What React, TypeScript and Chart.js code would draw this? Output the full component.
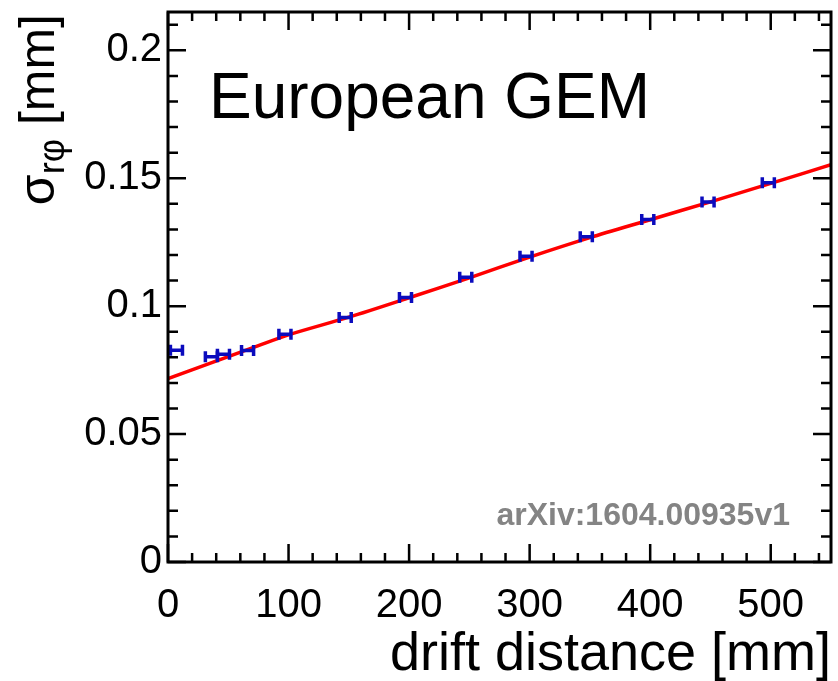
import React, { useEffect, useRef } from 'react';
import { Chart, registerables } from 'chart.js';

Chart.register(...registerables);

// ---- data ----
const pointX = [7, 36, 46, 66, 97, 147, 197, 247, 297, 347, 398, 448, 498];
const pointY = [0.0828, 0.0802, 0.0812, 0.0827, 0.089, 0.0956, 0.1034, 0.1113, 0.1195, 0.1271, 0.1339, 0.1407, 0.1483];
const pointXErr = [5, 5, 5, 5, 5, 5, 5, 5, 5, 5, 5, 5, 5];

const fitX = [0, 25, 50, 75, 100, 150, 200, 250, 300, 350, 400, 450, 500, 550];
const fitY = [0.0717, 0.076, 0.0803, 0.0846, 0.0888, 0.0957, 0.1033, 0.1111, 0.1192, 0.1268, 0.1338, 0.1408, 0.148, 0.1553];

const xTickValues = [0, 100, 200, 300, 400, 500];
const xTickLabels = ['0', '100', '200', '300', '400', '500'];
const yTickValues = [0, 0.05, 0.1, 0.15, 0.2];
const yTickLabels = ['0', '0.05', '0.1', '0.15', '0.2'];

const X_MIN = 0;
const X_MAX = 550;
const Y_MIN = 0;
const Y_MAX = 0.215;
const X_MINOR_STEP = 20;
const Y_MINOR_STEP = 0.01;

const FONT = "'Liberation Sans', Arial, Helvetica, sans-serif";
const BLUE = '#0b0bbd';

const errorBarPlugin = {
  id: 'errorBars',
  afterDatasetsDraw(chart: any) {
    const { ctx, scales } = chart;
    const xs = scales.x;
    const ys = scales.y;
    ctx.save();
    ctx.strokeStyle = BLUE;
    ctx.lineWidth = 3.5;
    ctx.lineCap = 'butt';
    pointX.forEach((vx, i) => {
      const x0 = xs.getPixelForValue(vx - pointXErr[i]);
      const x1 = xs.getPixelForValue(vx + pointXErr[i]);
      const py = ys.getPixelForValue(pointY[i]);
      const cap = 5.5;
      ctx.beginPath();
      ctx.moveTo(x0, py);
      ctx.lineTo(x1, py);
      ctx.moveTo(x0, py - cap);
      ctx.lineTo(x0, py + cap);
      ctx.moveTo(x1, py - cap);
      ctx.lineTo(x1, py + cap);
      ctx.stroke();
    });
    ctx.restore();
  },
};

const framePlugin = {
  id: 'rootFrame',
  afterDraw(chart: any) {
    const { ctx, chartArea, scales } = chart;
    const xs = scales.x;
    const ys = scales.y;
    const { left, right, top, bottom } = chartArea;
    ctx.save();
    ctx.strokeStyle = '#000';
    ctx.lineWidth = 3;
    ctx.strokeRect(left, top, right - left, bottom - top);

    ctx.lineWidth = 2.5;
    ctx.beginPath();
    for (let v = X_MIN; v <= X_MAX + 1e-9; v += X_MINOR_STEP) {
      const px = xs.getPixelForValue(v);
      const major = Math.abs(v % 100) < 1e-6;
      const len = major ? 18 : 9;
      ctx.moveTo(px, bottom);
      ctx.lineTo(px, bottom - len);
      ctx.moveTo(px, top);
      ctx.lineTo(px, top + len);
    }
    for (let k = 0; k * Y_MINOR_STEP <= Y_MAX + 1e-9; k++) {
      const v = k * Y_MINOR_STEP;
      const py = ys.getPixelForValue(v);
      const major = k % 5 === 0;
      const len = major ? 18 : 10;
      ctx.moveTo(left, py);
      ctx.lineTo(left + len, py);
      ctx.moveTo(right, py);
      ctx.lineTo(right - len, py);
    }
    ctx.stroke();

    ctx.fillStyle = '#000';
    ctx.font = `64px ${FONT}`;
    ctx.textAlign = 'left';
    ctx.textBaseline = 'alphabetic';
    ctx.fillText('European GEM', xs.getPixelForValue(34), ys.getPixelForValue(0.1736));

    ctx.fillStyle = '#848484';
    ctx.font = `bold 32px ${FONT}`;
    ctx.textAlign = 'right';
    ctx.fillText('arXiv:1604.00935v1', xs.getPixelForValue(516), ys.getPixelForValue(0.0145));

    // y axis title: sigma_{r phi} [mm], rotated, aligned to the top of the frame
    ctx.fillStyle = '#000';
    ctx.translate(54, top + 2);
    ctx.rotate(-Math.PI / 2);
    ctx.textAlign = 'left';
    const big = `50px ${FONT}`;
    const small = `36px ${FONT}`;
    ctx.font = big;
    const w1 = ctx.measureText('σ').width;
    const w3 = ctx.measureText(' [mm]').width;
    ctx.font = small;
    const w2 = ctx.measureText('rφ').width;
    const total = w1 + w2 + w3;
    ctx.font = big;
    ctx.fillText('σ', -total, 0);
    ctx.font = small;
    ctx.fillText('rφ', -total + w1, 10);
    ctx.font = big;
    ctx.fillText(' [mm]', -total + w1 + w2, 0);
    ctx.restore();
  },
};

export default function App() {
  const canvasRef = useRef<HTMLCanvasElement | null>(null);

  useEffect(() => {
    const canvas = canvasRef.current;
    if (!canvas) return;
    const chart = new Chart(canvas, {
      type: 'scatter',
      data: {
        datasets: [
          {
            type: 'line',
            label: 'fit',
            data: fitX.map((x, i) => ({ x, y: fitY[i] })),
            borderColor: '#ff0000',
            backgroundColor: '#ff0000',
            borderWidth: 3.5,
            pointRadius: 0,
            tension: 0.3,
            fill: false,
            order: 2,
          } as any,
          {
            type: 'scatter',
            label: 'data',
            data: pointX.map((x, i) => ({ x, y: pointY[i] })),
            pointRadius: 0,
            borderColor: BLUE,
            backgroundColor: BLUE,
            order: 1,
          },
        ],
      },
      options: {
        animation: false,
        responsive: false,
        devicePixelRatio: 1,
        layout: { padding: { left: 0, top: 12, right: 7, bottom: 0 } },
        plugins: {
          legend: { display: false },
          tooltip: { enabled: false },
        },
        scales: {
          x: {
            type: 'linear',
            position: 'bottom',
            min: X_MIN,
            max: X_MAX,
            grid: { display: false, drawTicks: false },
            border: { display: false },
            afterBuildTicks: (s: any) => {
              s.ticks = xTickValues.map((v) => ({ value: v }));
            },
            afterFit: (s: any) => {
              s.height = 119;
              s.paddingLeft = 0;
              s.paddingRight = 0;
              s.paddingTop = 0;
              s.paddingBottom = 0;
            },
            ticks: {
              autoSkip: false,
              maxRotation: 0,
              minRotation: 0,
              padding: 20,
              color: '#000',
              font: { family: FONT, size: 40 },
              callback: (_v: any, i: number) => xTickLabels[i],
            },
            title: {
              display: true,
              text: 'drift distance [mm]',
              align: 'end',
              color: '#000',
              font: { family: FONT, size: 54 },
              padding: { top: 0, bottom: -7 },
            },
          },
          y: {
            type: 'linear',
            position: 'left',
            min: Y_MIN,
            max: Y_MAX,
            grid: { display: false, drawTicks: false },
            border: { display: false },
            afterBuildTicks: (s: any) => {
              s.ticks = yTickValues.map((v) => ({ value: v }));
            },
            afterFit: (s: any) => {
              s.width = 168;
              s.paddingLeft = 0;
              s.paddingRight = 0;
              s.paddingTop = 0;
              s.paddingBottom = 0;
            },
            ticks: {
              autoSkip: false,
              padding: 6,
              color: '#000',
              font: { family: FONT, size: 40 },
              callback: (_v: any, i: number) => yTickLabels[i],
            },
          },
        },
      },
      plugins: [errorBarPlugin, framePlugin],
    });
    return () => chart.destroy();
  }, []);

  return (
    <div style={{ position: 'absolute', left: 0, top: 0, width: 838, height: 681, background: '#fff' }}>
      <canvas ref={canvasRef} width={838} height={681} style={{ display: 'block' }} />
    </div>
  );
}
